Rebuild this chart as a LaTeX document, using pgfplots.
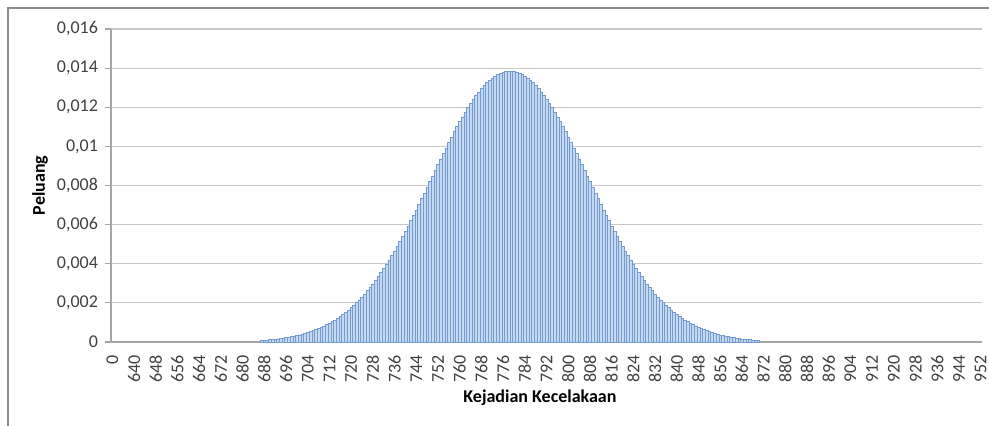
\documentclass[border=0pt]{standalone}
\usepackage{fontspec}
\setmainfont{Carlito}
\usepackage{pgfplots}
\pgfplotsset{compat=1.18}
\usepackage{pgfplotstable}
\definecolor{barfill}{RGB}{197,217,241}
\definecolor{baredge}{RGB}{115,155,208}
\definecolor{gridc}{RGB}{200,200,200}
\definecolor{axc}{RGB}{165,165,165}
\definecolor{tickc}{RGB}{64,64,64}
\definecolor{framec}{RGB}{140,140,140}

\pgfplotstableread{
x y
55 0.0000891
56 0.0000994
57 0.000111
58 0.000123
59 0.000137
60 0.000152
61 0.000169
62 0.000187
63 0.000207
64 0.000229
65 0.000253
66 0.000279
67 0.000307
68 0.000337
69 0.000371
70 0.000407
71 0.000446
72 0.000488
73 0.000534
74 0.000583
75 0.000636
76 0.000692
77 0.000753
78 0.000819
79 0.000889
80 0.000963
81 0.001043
82 0.001128
83 0.001219
84 0.001315
85 0.001417
86 0.001525
87 0.001639
88 0.001760
89 0.001888
90 0.002022
91 0.002163
92 0.002312
93 0.002467
94 0.002630
95 0.002800
96 0.002977
97 0.003163
98 0.003355
99 0.003555
100 0.003762
101 0.003977
102 0.004198
103 0.004427
104 0.004663
105 0.004905
106 0.005153
107 0.005408
108 0.005668
109 0.005934
110 0.006205
111 0.006480
112 0.006759
113 0.007042
114 0.007328
115 0.007616
116 0.007906
117 0.008198
118 0.008489
119 0.008781
120 0.009071
121 0.009360
122 0.009646
123 0.009930
124 0.010209
125 0.010483
126 0.010752
127 0.011015
128 0.011270
129 0.011517
130 0.011755
131 0.011984
132 0.012203
133 0.012411
134 0.012607
135 0.012791
136 0.012961
137 0.013119
138 0.013262
139 0.013390
140 0.013504
141 0.013602
142 0.013684
143 0.013750
144 0.013800
145 0.013833
146 0.013850
147 0.013850
148 0.013833
149 0.013800
150 0.013750
151 0.013684
152 0.013602
153 0.013504
154 0.013390
155 0.013262
156 0.013119
157 0.012961
158 0.012791
159 0.012607
160 0.012411
161 0.012203
162 0.011984
163 0.011755
164 0.011517
165 0.011270
166 0.011015
167 0.010752
168 0.010483
169 0.010209
170 0.009930
171 0.009646
172 0.009360
173 0.009071
174 0.008781
175 0.008489
176 0.008198
177 0.007906
178 0.007616
179 0.007328
180 0.007042
181 0.006759
182 0.006480
183 0.006205
184 0.005934
185 0.005668
186 0.005408
187 0.005153
188 0.004905
189 0.004663
190 0.004427
191 0.004198
192 0.003977
193 0.003762
194 0.003555
195 0.003355
196 0.003163
197 0.002977
198 0.002800
199 0.002630
200 0.002467
201 0.002312
202 0.002163
203 0.002022
204 0.001888
205 0.001760
206 0.001639
207 0.001525
208 0.001417
209 0.001315
210 0.001219
211 0.001128
212 0.001043
213 0.000963
214 0.000889
215 0.000819
216 0.000753
217 0.000692
218 0.000636
219 0.000583
220 0.000534
221 0.000488
222 0.000446
223 0.000407
224 0.000371
225 0.000337
226 0.000307
227 0.000279
228 0.000253
229 0.000229
230 0.000207
231 0.000187
232 0.000169
233 0.000152
234 0.000137
235 0.000123
236 0.000111
237 0.0000994
238 0.0000891
}\dist

\begin{document}
\begin{tikzpicture}
\path[use as bounding box] (0,0) rectangle (494.5pt,-212.5pt);
\draw[framec, line width=0.8pt] (4pt,-220pt) -- (4pt,-4pt) -- (500pt,-4pt);
\begin{axis}[
  at={(55.5pt,-171pt)}, anchor=south west,
  scale only axis, width=435.5pt, height=156.5pt,
  xmin=-0.5, xmax=320.5, ymin=0, ymax=0.016,
  scaled y ticks=false,
  axis lines*=left,
  axis line style={axc, line width=0.6pt},
  ymajorgrids, grid style={gridc, line width=0.6pt},
  tick align=outside, major tick length=3pt,
  ytick style={axc, line width=0.6pt},
  xtick style={draw=none},
  ytick={0,0.002,0.004,0.006,0.008,0.01,0.012,0.014,0.016},
  yticklabels={0,{0,002},{0,004},{0,006},{0,008},{0,01},{0,012},{0,014},{0,016}},
  yticklabel style={font=\fontsize{9}{10}\selectfont, text=tickc},
  xtick={0,8,16,24,32,40,48,56,64,72,80,88,96,104,112,120,128,136,144,152,160,168,176,184,192,200,208,216,224,232,240,248,256,264,272,280,288,296,304,312,320},
  xticklabels={0,640,648,656,664,672,680,688,696,704,712,720,728,736,744,752,760,768,776,784,792,800,808,816,824,832,840,848,856,864,872,880,888,896,904,912,920,928,936,944,952},
  xticklabel style={font=\fontsize{9}{10}\selectfont, text=tickc, rotate=90, anchor=east},
  xlabel={\bfseries Kejadian Kecelakaan},
  ylabel={\bfseries Peluang},
  every axis x label/.style={at={(axis description cs:0.4925,-0.1789)}, anchor=center, font=\fontsize{9}{10}\selectfont},
  every axis y label/.style={at={(axis description cs:-0.0815,0.5)}, rotate=90, anchor=center, font=\fontsize{9}{10}\selectfont},
]
\addplot[ybar, bar width=1, bar shift=0pt, fill=barfill, draw=baredge, line width=0.2pt] table[x=x, y=y] {\dist};
\end{axis}
\end{tikzpicture}
\end{document}
